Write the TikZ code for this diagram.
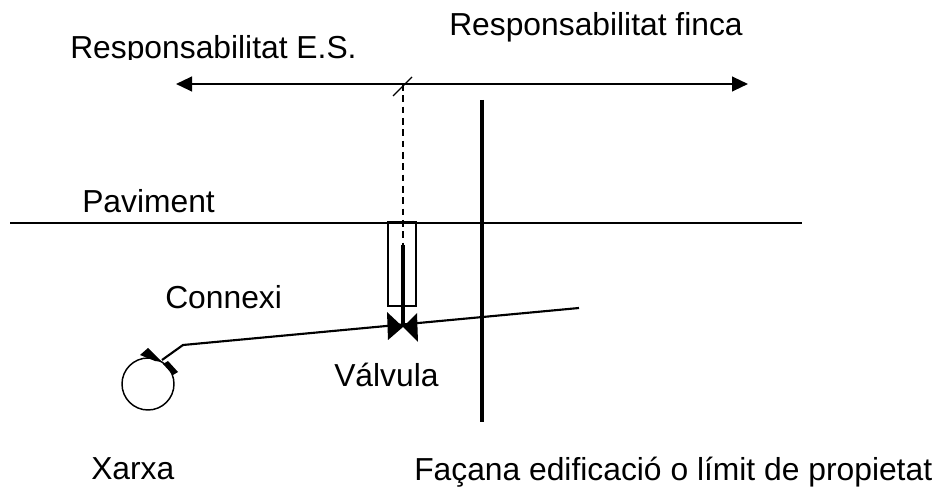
\documentclass[tikz,border=0pt]{standalone}
\usepackage{fontspec}
\setmainfont{Liberation Sans}
\usetikzlibrary{positioning,arrows.meta}

\begin{document}
\begin{tikzpicture}[x=0.75pt,y=-0.75pt,
rotul/.style={anchor=base west,inner sep=0pt,font=\fontsize{23.85pt}{28pt}\selectfont},
prim/.style={draw,line width=1pt},
mig/.style={draw,line width=1.6pt},
gruix/.style={draw,line width=3pt}]
\useasboundingbox (0,0) rectangle (942,491);
% cotes de responsabilitat
\coordinate (cotaesq) at (176,84);
\coordinate (cotadre) at (748,84);
\coordinate (tallbaix) at (393,96);
\coordinate (talldalt) at (412,77);
\coordinate (cotamig) at (403,84);
\draw [mig,{Triangle[length=12pt,width=11pt]}-{Triangle[length=12pt,width=11pt]}] (cotaesq) -- (cotadre);
\draw [prim] (tallbaix) -- (talldalt);
% paviment i facana
\coordinate (pavesq) at (10,223);
\coordinate (pavdre) at (802,223);
\coordinate (facdalt) at (482,100);
\coordinate (facbaix) at (482,422);
\draw [mig] (pavesq) -- (pavdre);
\draw [gruix] (facdalt) -- (facbaix);
% arqueta de la valvula
\node (arqueta) [draw,line width=1pt,minimum width=21pt,minimum height=63pt,inner sep=0pt] at (402,264) {};
\coordinate (eixdalt) at (403,245);
\coordinate (eixbaix) at (403,327);
\draw [prim,dash pattern=on 5pt off 3.5pt] (cotamig) -- (eixdalt);
\draw [gruix,line width=2.6pt] (eixdalt) -- (eixbaix);
% xarxa i connexio
\node (xarxa) [draw,circle,line width=1.1pt,minimum size=39pt,inner sep=0pt] at (148,384) {};
\coordinate (presa) at (162,360);
\coordinate (colze) at (183,345);
\coordinate (tubfi) at (579,308);
\draw [mig] (presa) -- (colze) -- (tubfi);
\fill (148,348) -- (140,355) -- (155,361) -- (162,362) -- cycle;
\fill (168,361) -- (178,372) -- (173,375) -- (163,364) -- cycle;
% valvula
\fill (387,312) -- (403,327) -- (417,313) -- (418,342) -- (403,327) -- (388,340) -- cycle;
% textos
\begin{scope}
\clip (60,30) rectangle (380,60);
\node (resp_es) [rotul] at (70,59) {Responsabilitat E.S.};
\end{scope}
\node (resp_finca) [rotul] at (449,36) {Responsabilitat finca};
\begin{scope}
\clip (60,185) rectangle (240,213);
\node (paviment) [rotul] at (82,213) {Paviment};
\end{scope}
\node (connexi) [rotul] at (165,309) {Connexi};
\node (valvula) [rotul] at (334,387) {Válvula};
\begin{scope}
\clip (80,450) rectangle (200,479);
\node (lblxarxa) [rotul] at (91,479) {Xarxa};
\end{scope}
\node (facana) [rotul] at (414,480.5) {Façana edificació o límit de propietat};
\end{tikzpicture}
\end{document}
